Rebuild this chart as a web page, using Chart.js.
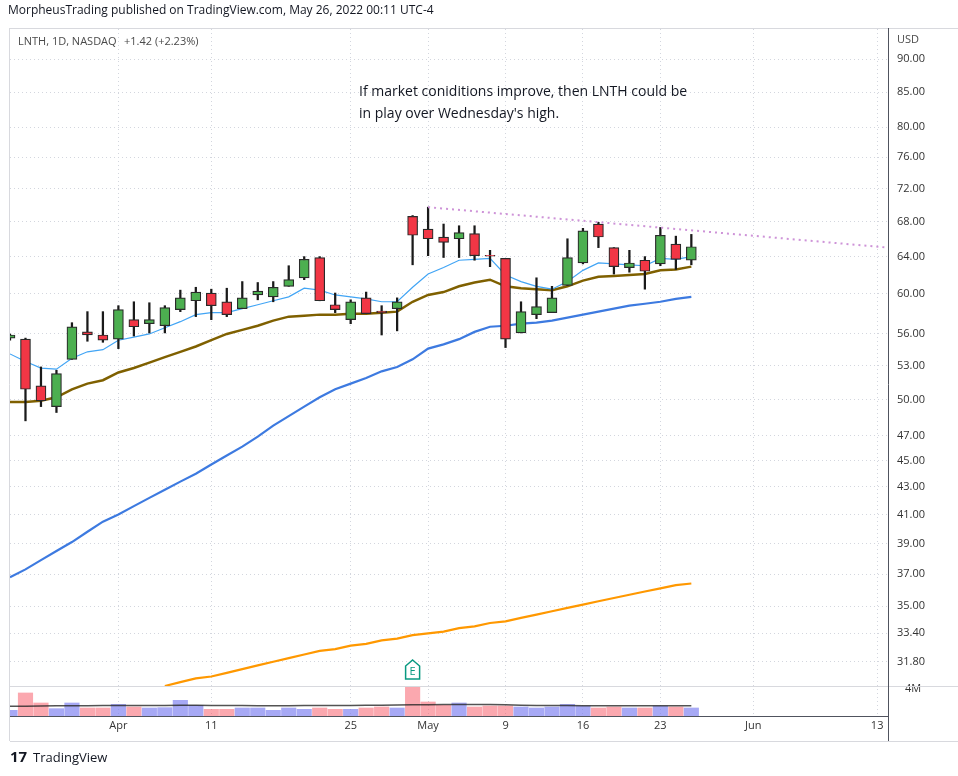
<!DOCTYPE html>
<html><head><meta charset="utf-8">
<script src="https://cdn.jsdelivr.net/npm/chart.js@4.4.0/dist/chart.umd.min.js"></script>
<style>html,body{margin:0;padding:0;background:#fff;}#wrap{width:958px;height:776px;position:relative;}</style>
</head><body><div id="wrap"><canvas id="c" width="958" height="776"></canvas></div>
<script>
// trading days from Mar 23 2022 (index 0) to May 25 2022 (index 44)
const dates = ["Mar23","Mar24","Mar25","Mar28","Mar29","Mar30","Mar31","Apr1","Apr4","Apr5","Apr6","Apr7","Apr8","Apr11","Apr12","Apr13","Apr14","Apr18","Apr19","Apr20","Apr21","Apr22","Apr25","Apr26","Apr27","Apr28","Apr29","May2","May3","May4","May5","May6","May9","May10","May11","May12","May13","May16","May17","May18","May19","May20","May23","May24","May25"];
const opens  = [55.6,55.5,51.2,49.4,53.6,56.2,55.9,55.5,57.4,57.0,56.8,58.4,59.3,60.1,59.2,58.5,59.9,59.7,60.8,61.7,63.9,58.9,57.4,59.6,58.25,58.5,68.6,67.1,66.2,66.0,66.6,64.15,63.8,56.1,57.9,58.1,60.9,63.3,67.7,65.0,62.8,63.6,63.2,65.4,63.6];
const highs  = [56.0,55.6,52.9,52.6,57.1,58.2,58.2,58.8,59.2,59.1,58.8,60.4,60.7,60.5,60.6,61.3,61.2,61.3,63.0,64.0,64.0,60.1,59.4,60.2,58.8,59.6,68.7,69.7,67.7,67.5,67.5,64.7,63.8,59.2,61.7,60.8,66.0,67.2,67.9,65.0,64.7,64.0,67.3,66.3,66.5];
const lows   = [55.4,48.2,49.4,48.9,53.6,55.3,55.2,54.6,55.8,56.1,56.1,58.2,57.7,57.4,57.7,58.5,59.4,59.2,60.8,61.5,59.3,58.1,57.0,58.0,55.9,56.3,63.1,64.1,63.9,63.9,63.6,62.9,54.7,56.1,57.5,58.1,60.9,63.2,65.0,62.1,62.3,60.5,63.0,62.6,63.1];
const closes = [55.9,50.9,49.9,52.3,56.7,55.9,55.4,58.4,56.7,57.4,58.6,59.6,60.2,58.8,57.9,59.6,60.3,60.7,61.5,63.7,59.3,58.4,59.2,58.0,58.1,59.2,66.4,66.0,65.6,66.7,64.1,64.05,55.5,58.2,58.7,59.6,63.9,66.9,66.2,62.9,63.3,62.4,66.4,63.7,65.1];
const volumes = [0.85,3.45,1.95,1.1,1.95,1.2,1.2,1.75,1.35,1.2,1.25,2.35,1.6,1.0,1.0,1.2,1.2,0.85,1.2,1.0,1.2,1.0,1.0,1.2,1.35,1.2,4.35,2.1,1.6,1.95,1.35,1.5,1.5,1.35,1.2,1.35,1.75,1.5,1.2,1.35,1.2,1.2,1.5,1.35,1.2];
const volumeMA = [1.45,1.47,1.5,1.52,1.55,1.55,1.56,1.57,1.57,1.58,1.58,1.6,1.6,1.58,1.57,1.56,1.55,1.54,1.55,1.56,1.56,1.57,1.58,1.6,1.62,1.63,1.68,1.7,1.72,1.73,1.73,1.72,1.68,1.62,1.58,1.56,1.56,1.55,1.55,1.54,1.54,1.54,1.54,1.54,1.54];
const ema10 = [54.1,53.4,52.8,52.7,53.7,54.3,54.5,55.4,55.7,56.0,56.6,57.2,57.9,58.1,58.1,58.5,58.9,59.3,59.7,60.6,60.4,59.9,59.7,59.5,59.2,59.2,60.7,62.1,62.8,63.6,63.7,63.8,62.0,61.3,60.8,60.5,61.3,62.5,63.3,63.2,63.1,63.0,63.8,63.7,64.0];
const ema21 = [49.8,49.8,49.9,50.2,50.9,51.4,51.7,52.4,52.8,53.3,53.8,54.3,54.8,55.4,56.0,56.4,56.8,57.3,57.7,57.8,57.9,57.9,58.0,58.0,58.1,58.2,59.2,59.9,60.2,60.8,61.2,61.5,60.8,60.6,60.5,60.4,60.8,61.4,61.8,61.9,62.0,62.1,62.5,62.6,62.9];
const sma50 = [36.8,37.3,37.9,38.5,39.1,39.8,40.5,41.0,41.6,42.2,42.8,43.4,44.0,44.7,45.4,46.1,46.9,47.8,48.6,49.4,50.2,50.9,51.4,51.9,52.5,52.9,53.6,54.6,55.0,55.5,56.2,56.7,56.8,57.0,57.1,57.3,57.6,57.9,58.2,58.5,58.8,59.0,59.2,59.5,59.7];
const sma200Start = 10;
const sma200 = [30.5,30.7,30.9,31.0,31.2,31.4,31.6,31.8,32.0,32.2,32.4,32.5,32.7,32.8,33.0,33.1,33.3,33.4,33.5,33.7,33.8,34.0,34.1,34.3,34.5,34.7,34.9,35.1,35.3,35.5,35.7,35.9,36.1,36.3,36.4];
const trendIdx = [27, 56.7];
const trendVals = [69.7, 65.0];
const priceTicks = [31.80,33.40,35,37,39,41,43,45,47,50,53,56,60,64,68,72,76,80,85,90];
const xTickIdx = [7,13,22,27,32,37,42,48,56];
const xTickLabels = ["Apr","11","25","May","9","16","23","Jun","13"];

const GREEN='#4caf50', RED='#f23645';
const up = i => closes[i] >= opens[i];
const idx = dates.map((_,i)=>i);

const overlay = {
  id:'overlay',
  afterDraw(chart){
    const ctx=chart.ctx, a=chart.chartArea, yv=chart.scales.yv, y=chart.scales.y;
    ctx.save();
    ctx.fillStyle='#131722';
    ctx.font='12px "Open Sans", sans-serif';
    ctx.textBaseline='middle';
    ctx.fillText('MorpheusTrading published on TradingView.com, May 26, 2022 00:11 UTC-4',8,11);
    ctx.fillStyle='#4a4a4a';
    ctx.font='11px "Open Sans", sans-serif';
    ctx.fillText('LNTH, 1D, NASDAQ',18,42);
    ctx.fillText('+1.42 (+2.23%)',124,42);
    ctx.fillText('USD',897,40);
    ctx.fillStyle='#131722';
    ctx.font='14px "Open Sans", sans-serif';
    ctx.fillText('If market coniditions improve, then LNTH could be',359,92);
    ctx.fillText("in play over Wednesday's high.",359,114);
    ctx.strokeStyle='#d8d9de'; ctx.lineWidth=1;
    ctx.beginPath();
    ctx.moveTo(a.left,Math.round(yv.top)+0.5); ctx.lineTo(958,Math.round(yv.top)+0.5);
    ctx.moveTo(a.left-0.5,28); ctx.lineTo(a.left-0.5,741);
    ctx.moveTo(a.left,741.5); ctx.lineTo(958,741.5);
    ctx.moveTo(a.left,28.5); ctx.lineTo(958,28.5);
    ctx.stroke();
    ctx.strokeStyle='#50535e';
    ctx.beginPath();
    ctx.moveTo(a.right+0.5,28); ctx.lineTo(a.right+0.5,741);
    ctx.moveTo(a.left,a.bottom+0.5); ctx.lineTo(a.right,a.bottom+0.5);
    ctx.stroke();
    const ex=chart.scales.x.getPixelForValue(26), ey=670;
    ctx.strokeStyle='#089981'; ctx.lineWidth=1.5; ctx.fillStyle='#fff';
    ctx.beginPath();
    ctx.moveTo(ex,ey-10); ctx.lineTo(ex+7,ey-4); ctx.lineTo(ex+7,ey+9); ctx.lineTo(ex-7,ey+9); ctx.lineTo(ex-7,ey-4); ctx.closePath();
    ctx.fill(); ctx.stroke();
    ctx.fillStyle='#089981'; ctx.font='11px "Open Sans", sans-serif'; ctx.textAlign='center';
    ctx.fillText('E',ex,ey+2);
    ctx.textAlign='left'; ctx.fillStyle='#131722';
    ctx.font='bold 15px "Open Sans", sans-serif'; ctx.fillText('17',10,758);
    ctx.font='13px "Open Sans", sans-serif'; ctx.fillText('TradingView',33,758);
    ctx.restore();
  }
};

new Chart(document.getElementById('c'),{
  data:{datasets:[
    {type:'line',label:'trend',data:trendIdx.map((x,i)=>({x,y:trendVals[i]})),borderColor:'#ce93d8',borderWidth:2,borderDash:[2,4],pointRadius:0,yAxisID:'y',order:1},
    {type:'line',label:'ema10',data:idx.map(i=>({x:i,y:ema10[i]})),borderColor:'#42a5f5',borderWidth:1.2,pointRadius:0,yAxisID:'y',order:4},
    {type:'line',label:'ema21',data:idx.map(i=>({x:i,y:ema21[i]})),borderColor:'#7f6000',borderWidth:2.5,pointRadius:0,yAxisID:'y',order:5},
    {type:'line',label:'sma50',data:idx.map(i=>({x:i,y:sma50[i]})),borderColor:'#3d7ae0',borderWidth:2.2,pointRadius:0,yAxisID:'y',order:6},
    {type:'line',label:'sma200',data:sma200.map((v,k)=>({x:k+sma200Start,y:v})),borderColor:'#ff9800',borderWidth:2.2,pointRadius:0,yAxisID:'y',order:7},
    {type:'bar',label:'bodies',data:idx.map(i=>({x:i,y:[opens[i],closes[i]]})),backgroundColor:idx.map(i=>up(i)?GREEN:RED),borderColor:'#2a2a2a',borderWidth:1.2,borderSkipped:false,barThickness:10,grouped:false,yAxisID:'y',order:2},
    {type:'bar',label:'wicks',data:idx.map(i=>({x:i,y:[lows[i],highs[i]]})),backgroundColor:'#1a1a1a',barThickness:1.6,grouped:false,yAxisID:'y',order:3},
    {type:'bar',label:'vol',data:idx.map(i=>({x:i,y:volumes[i]*1e6})),backgroundColor:idx.map(i=>up(i)?'rgba(120,123,240,0.65)':'rgba(247,82,95,0.5)'),barThickness:14.5,grouped:false,yAxisID:'yv',order:9},
    {type:'line',label:'volma',data:idx.map(i=>({x:i,y:volumeMA[i]*1e6})),borderColor:'rgba(40,40,40,0.8)',borderWidth:1.5,pointRadius:0,yAxisID:'yv',order:8}
  ]},
  options:{
    responsive:false,animation:false,devicePixelRatio:1,
    layout:{padding:{top:29,left:10,bottom:36,right:0}},
    plugins:{legend:{display:false},tooltip:{enabled:false}},
    scales:{
      x:{type:'linear',min:0,max:56.7,offset:false,
        afterBuildTicks:s=>{s.ticks=xTickIdx.map(v=>({value:v}));},
        afterFit:s=>{s.height=24;},
        ticks:{autoSkip:false,maxRotation:0,color:'#333',font:{size:11,family:'"Open Sans", sans-serif'},callback:(v)=>xTickLabels[xTickIdx.indexOf(v)]},
        grid:{offset:false,color:'#d3d6de',drawTicks:false},border:{display:false,dash:[1,3]}},
      y:{type:'logarithmic',position:'right',stack:'p',stackWeight:656,min:30.5,max:94.8,
        afterBuildTicks:s=>{s.ticks=priceTicks.map(v=>({value:v}));},
        afterFit:s=>{s.width=70;},
        ticks:{color:'#333',padding:9,font:{size:11,family:'"Open Sans", sans-serif'},callback:v=>Number(v).toFixed(2)},
        grid:{color:'#d3d6de',drawTicks:false},border:{display:false,dash:[1,3]}},
      yv:{type:'linear',position:'right',stack:'p',stackWeight:30,min:0,max:4.5e6,
        afterBuildTicks:s=>{s.ticks=[{value:4e6}];},
        afterFit:s=>{s.width=70;},
        ticks:{color:'#333',padding:9,font:{size:11,family:'"Open Sans", sans-serif'},callback:()=> '4M'},
        grid:{display:false},border:{display:false}}
    }
  },
  plugins:[overlay]
});
</script></body></html>
